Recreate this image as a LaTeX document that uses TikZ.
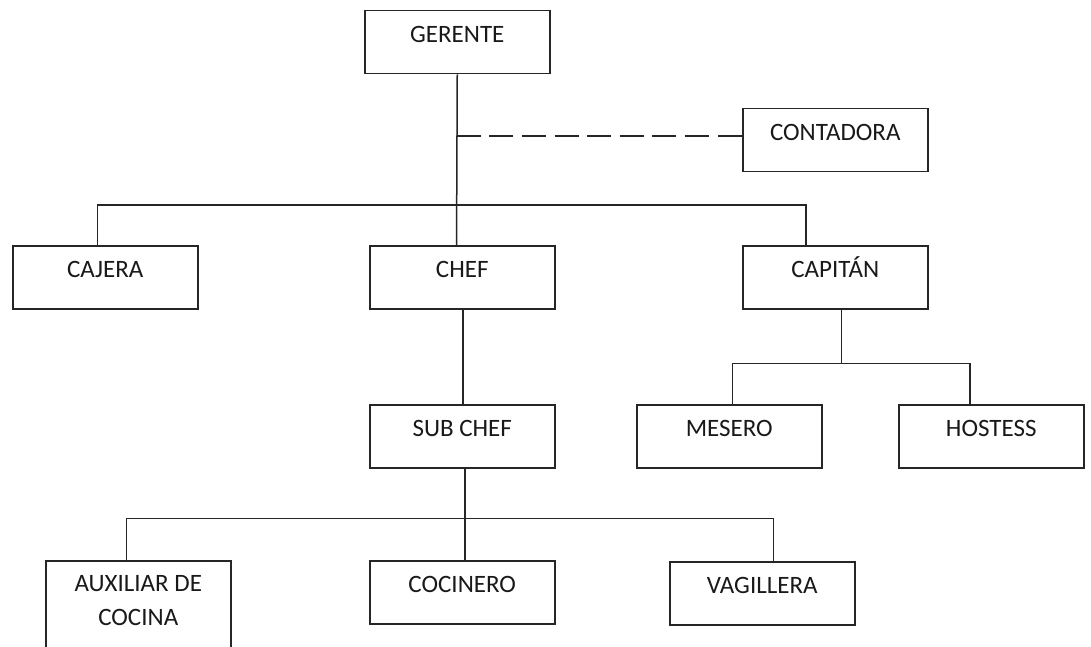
\documentclass[tikz,border=0pt]{standalone}
\usepackage{fontspec}
\setmainfont{Carlito}
\begin{document}
\begin{tikzpicture}[x=1pt,y=-1pt]
\tikzset{
  box/.style={draw=black!85, line width=1.5pt, minimum width=185pt, minimum height=63pt, inner sep=0pt, anchor=north west},
  lbl/.style={font=\fontsize{25}{34}\selectfont, anchor=base, inner sep=0pt, text=black!90, align=center},
  conn/.style={draw=black!85, line width=1.5pt},
  dconn/.style={conn, dash pattern=on 24pt off 8.6pt},
}
\useasboundingbox[fill=white] (0,0) rectangle (1091,647);
% boxes
\node[box] (gerente) at (364,10) {};
\node[box] (contadora) at (742,108) {};
\node[box] (cajera) at (12,245) {};
\node[box] (chef) at (369,245) {};
\node[box] (capitan) at (742,245) {};
\node[box] (subchef) at (369,404) {};
\node[box] (mesero) at (636,404) {};
\node[box] (hostess) at (898,404) {};
\node[box, minimum height=110pt] (auxiliar) at (45,560) {};
\node[box] (cocinero) at (369,560) {};
\node[box] (vagillera) at (669,561) {};
% labels
\node[lbl] (gerente-t) at ([yshift=-32.7pt]gerente.north) {GERENTE};
\node[lbl] (contadora-t) at ([yshift=-32.7pt]contadora.north) {CONTADORA};
\node[lbl] (cajera-t) at ([yshift=-32.7pt]cajera.north) {CAJERA};
\node[lbl] (chef-t) at ([yshift=-32.7pt]chef.north) {CHEF};
\node[lbl] (capitan-t) at ([yshift=-32.7pt]capitan.north) {CAPITÁN};
\node[lbl] (subchef-t) at ([yshift=-32.7pt]subchef.north) {SUB CHEF};
\node[lbl] (mesero-t) at ([yshift=-32.7pt]mesero.north) {MESERO};
\node[lbl] (hostess-t) at ([yshift=-32.7pt]hostess.north) {HOSTESS};
\node[lbl, anchor=north] (auxiliar-t) at ([yshift=-15.6pt]auxiliar.north) {AUXILIAR DE\\COCINA};
\node[lbl] (cocinero-t) at ([yshift=-32.7pt]cocinero.north) {COCINERO};
\node[lbl] (vagillera-t) at ([yshift=-32.7pt]vagillera.north) {VAGILLERA};
% bus coordinates
\coordinate (b1L) at (97.6,205);
\coordinate (b1M) at (456.7,205);
\coordinate (b1R) at (806,205);
\coordinate (dsh) at (456.7,136);
\coordinate (b2L) at (732.3,363.3);
\coordinate (b2M) at (841.7,363.3);
\coordinate (b2R) at (970,363.3);
\coordinate (b3L) at (126.4,518.3);
\coordinate (b3M) at (465,518.3);
\coordinate (b3R) at (773.3,518.3);
% connectors
\draw[conn] (gerente.south) -- (b1M) -- (b1M |- chef.north);
\draw[dconn] (dsh) -- (dsh -| contadora.west);
\draw[conn] (b1L |- cajera.north) -- (b1L) -- (b1R) -- (b1R |- capitan.north);
\draw[conn] ([xshift=0.8pt]chef.south) -- ([xshift=0.8pt]subchef.north);
\draw[conn] (capitan.south -| b2M) -- (b2M);
\draw[conn] (b2L |- mesero.north) -- (b2L) -- (b2R) -- (b2R |- hostess.north);
\draw[conn] (subchef.south -| b3M) -- (b3M |- cocinero.north);
\draw[conn] (b3L |- auxiliar.north) -- (b3L) -- (b3R) -- (b3R |- vagillera.north);
\end{tikzpicture}
\end{document}
